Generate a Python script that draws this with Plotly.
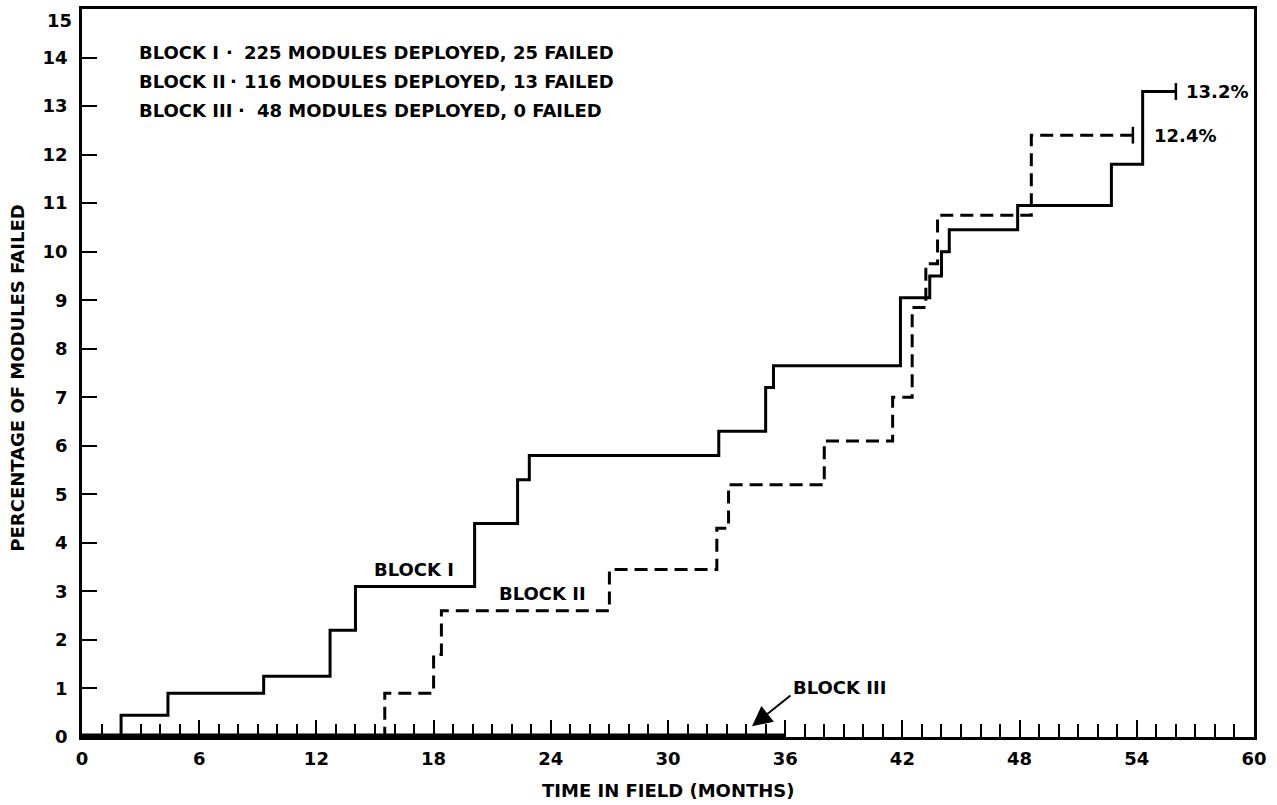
import plotly.graph_objects as go

# ---- data ----
block1_x = [0, 2.0, 4.4, 9.3, 12.7, 14.0, 20.1, 22.3, 22.9, 32.6, 35.0, 35.4,
            41.9, 43.4, 44.0, 44.4, 47.9, 52.7, 54.3, 56.0]
block1_y = [0, 0.45, 0.9, 1.25, 2.2, 3.1, 4.4, 5.3, 5.8, 6.3, 7.2, 7.65,
            9.05, 9.5, 10.0, 10.45, 10.95, 11.8, 13.3, 13.3]

block2_x = [0, 15.5, 18.0, 18.4, 27.0, 32.5, 33.1, 38.0, 41.5, 42.5, 43.2, 43.8, 48.6, 53.8]
block2_y = [0, 0.9, 1.7, 2.6, 3.45, 4.3, 5.2, 6.1, 7.0, 8.85, 9.75, 10.75, 12.4, 12.4]

block3_x = [0, 36]
block3_y = [0, 0]

end_labels = ["13.2%", "12.4%"]
legend_names = ["BLOCK I", "BLOCK II", "BLOCK III"]
legend_rest = ["225 MODULES DEPLOYED, 25 FAILED",
               "116 MODULES DEPLOYED, 13 FAILED",
               "48 MODULES DEPLOYED, 0 FAILED"]
x_ticks = list(range(0, 61, 6))
y_ticks = list(range(0, 16))
y_ticktext = [str(v) for v in y_ticks[:-1]] + [""]   # top label drawn separately

FONT = "DejaVu Sans"
fnt = dict(family=FONT, size=18, color="black", weight="bold")

fig = go.Figure()
fig.add_trace(go.Scatter(x=block3_x, y=block3_y, mode="lines",
                         line=dict(color="black", width=7), showlegend=False))
fig.add_trace(go.Scatter(x=block2_x, y=block2_y, mode="lines", line_shape="hv",
                         line=dict(color="black", width=3, dash="13px,7px"),
                         showlegend=False))
fig.add_trace(go.Scatter(x=block1_x, y=block1_y, mode="lines", line_shape="hv",
                         line=dict(color="black", width=3), showlegend=False))
# end caps
fig.add_trace(go.Scatter(x=[block1_x[-1], block2_x[-1]], y=[block1_y[-1], block2_y[-1]],
                         mode="markers",
                         marker=dict(symbol="line-ns", size=12,
                                     line=dict(color="black", width=2.5)),
                         showlegend=False))

ann = []
# top y tick label (kept inside the page)
ann.append(dict(xref="paper", x=0, y=y_ticks[-1], text=str(y_ticks[-1]),
                xanchor="right", yanchor="top", xshift=-8, yshift=1,
                showarrow=False, font=fnt))
# end labels
ann.append(dict(x=56.4, y=block1_y[-1], text=end_labels[0], xanchor="left",
                yanchor="middle", showarrow=False, font=fnt))
ann.append(dict(x=54.8, y=block2_y[-1], text=end_labels[1], xanchor="left",
                yanchor="middle", showarrow=False, font=fnt))
# curve labels
ann.append(dict(x=17.0, y=3.45, text="BLOCK I", showarrow=False, font=fnt))
ann.append(dict(x=23.6, y=2.95, text="BLOCK II", showarrow=False, font=fnt))
ann.append(dict(x=38.8, y=1.02, text="BLOCK III", showarrow=False, font=fnt))
ann.append(dict(x=34.3, y=0.22, ax=40, ay=-32, text="", showarrow=True,
                arrowhead=2, arrowsize=2.0, arrowwidth=2, arrowcolor="black",
                standoff=0))
# legend text block
rows_y = [14.1, 13.5, 12.9]
bullet_x = [7.55, 7.75, 8.15]
rest_x = [8.2, 8.2, 8.85]
for i in range(3):
    ann.append(dict(x=2.8, y=rows_y[i], text=legend_names[i], xanchor="left",
                    showarrow=False, font=fnt))
    ann.append(dict(x=bullet_x[i], y=rows_y[i], text="\u00b7", xanchor="center",
                    showarrow=False, font=fnt))
    ann.append(dict(x=rest_x[i], y=rows_y[i], text=legend_rest[i],
                    xanchor="left", showarrow=False, font=fnt))
# axis titles
ann.append(dict(xref="paper", yref="paper", x=0.5, y=-0.073,
                text="TIME IN FIELD (MONTHS)", showarrow=False, font=fnt,
                xanchor="center", yanchor="middle"))
ann.append(dict(xref="paper", yref="paper", x=-0.055, y=0.493,
                text="PERCENTAGE OF MODULES FAILED", textangle=-90,
                showarrow=False, font=fnt, xanchor="center", yanchor="middle"))

fig.update_layout(
    width=1277, height=805,
    margin=dict(l=82, r=23, t=9, b=68),
    paper_bgcolor="white", plot_bgcolor="white",
    annotations=ann, showlegend=False,
)
fig.update_xaxes(range=[0, 60], tickvals=x_ticks, ticks="inside", ticklen=17,
                 tickwidth=2, tickcolor="black", showgrid=False, zeroline=False,
                 showline=True, linecolor="black", linewidth=2.5, mirror=True,
                 tickfont=fnt, ticklabelstandoff=4, automargin=False,
                 ticklabeloverflow="allow",
                 minor=dict(dtick=1, ticks="inside", ticklen=13, tickwidth=2,
                            tickcolor="black", showgrid=False))
fig.update_yaxes(range=[0, 15], tickvals=y_ticks, ticktext=y_ticktext,
                 ticks="inside", ticklen=15,
                 tickwidth=2, tickcolor="black", showgrid=False, zeroline=False,
                 showline=True, linecolor="black", linewidth=2.5, mirror=True,
                 tickfont=fnt, ticklabelstandoff=8, automargin=False,
                 ticklabeloverflow="allow")

fig.write_html("out.html")
